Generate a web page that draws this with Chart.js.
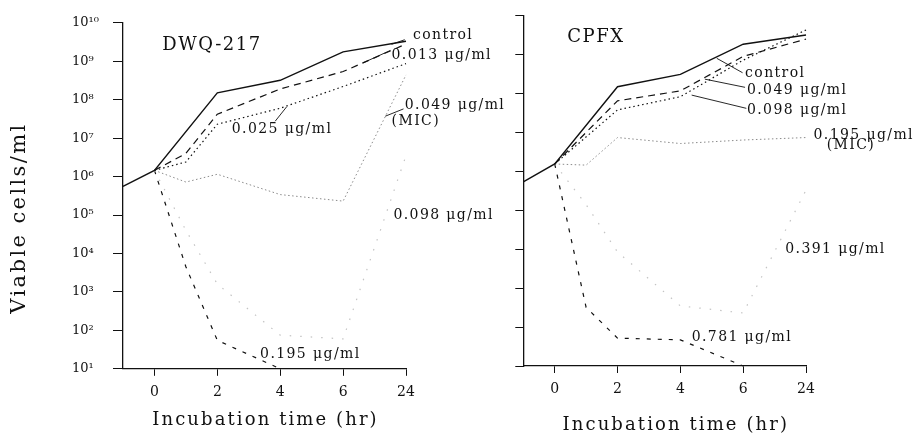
<!DOCTYPE html>
<html>
<head>
<meta charset="utf-8">
<script src="https://cdn.jsdelivr.net/npm/chart.js@4.4.1/dist/chart.umd.min.js"></script>
<style>
    html, body { margin: 0; padding: 0; background: #fff; }
    #wrap { position: relative; width: 917px; height: 435px; overflow: hidden; }
    canvas { position: absolute; top: 0; }
    #chart1 { left: 0; }
    #chart2 { left: 460px; }
</style>
</head>
<body>
<div id="wrap">
    <canvas id="chart1" width="520" height="435"></canvas>
    <canvas id="chart2" width="457" height="435"></canvas>
</div>
<script>
// sampling times (hr) and axis ticks
const hours = [-1, 0, 1, 2, 4, 6, 24];
const tickHours = [0, 2, 4, 6, 24];
const yTicks = [1e1, 1e2, 1e3, 1e4, 1e5, 1e6, 1e7, 1e8, 1e9, 1e10];

// DWQ-217 (viable cells/ml)
const dwqControl = [5.6e5, 1.45e6, null, 1.5e8, 3.2e8, 1.75e9, 3.3e9];
const dwq013 = [null, 1.45e6, 4.0e6, 4.2e7, 1.9e8, 5.4e8, 2.8e9];
const dwq025 = [null, 1.45e6, 2.4e6, 2.3e7, 6.0e7, 2.2e8, 8.7e8];
const dwq049 = [null, 1.45e6, 7.2e5, 1.15e6, 3.4e5, 2.3e5, 4.4e8];
const dwq098 = [null, 1.45e6, 4.0e4, 1.6e3, 75, 60, 3.5e6];
const dwq195 = [null, 1.45e6, 4.5e3, 55, 10, null, null];

// CPFX (viable cells/ml)
const cpfxControl = [5.4e5, 1.55e6, null, 1.5e8, 3.1e8, 1.85e9, 3.2e9];
const cpfx049 = [null, 1.55e6, null, 6.5e7, 1.17e8, 9.0e8, 2.5e9];
const cpfx098 = [null, 1.55e6, null, 3.8e7, 8.3e7, 7.2e8, 4.3e9];
const cpfx195 = [null, 1.55e6, 1.45e6, 7.4e6, 5.2e6, 6.4e6, 7.4e6];
const cpfx391 = [null, 1.55e6, 1.4e5, 8.5e3, 350, 230, 3.3e5];
const cpfx781 = [null, 1.55e6, 320, 52, 47, 10, null];

// broken time axis: 0-6 h at half a slot per hour, 6-24 h squeezed into one slot
function pos(h) {
    return h <= 6 ? h / 2 : 3 + (h - 6) / 18;
}

const SERIF = '"DejaVu Serif", "Liberation Serif", serif';
const INK = '#111';

const styles = {
    solid: { borderColor: INK, borderWidth: 1.4, borderDash: [] },
    dash: { borderColor: INK, borderWidth: 1.2, borderDash: [7, 5] },
    dot: { borderColor: INK, borderWidth: 1.2, borderDash: [1.5, 3] },
    mic: { borderColor: '#8a8a8a', borderWidth: 1, borderDash: [1.5, 2.5] },
    faint: { borderColor: '#c4c4c4', borderWidth: 1.2, borderDash: [1.5, 9] },
    kill: { borderColor: INK, borderWidth: 1.2, borderDash: [4, 7] }
};

const sup = n => String(n).split('').map(d => '⁰¹²³⁴⁵⁶⁷⁸⁹'[+d]).join('');

// label anchors: [axis slot, log10 count]
const dwqNotes = [
    { text: 'control', at: [4.11, 9.67], from: [3.98, 9.56], to: [3.77, 9.44] },
    { text: '0.013 μg/ml', at: [3.77, 9.15], from: [3.75, 9.28], to: [3.32, 8.96] },
    { text: '0.049 μg/ml', at: [3.98, 7.85], from: [3.96, 7.76], to: [3.67, 7.57] },
    { text: '(MIC)', at: [3.77, 7.44] },
    { text: '0.025 μg/ml', at: [1.23, 7.24], from: [1.92, 7.44], to: [2.10, 7.81] },
    { text: '0.098 μg/ml', at: [3.80, 5.0] },
    { text: '0.195 μg/ml', at: [1.68, 1.38] }
];
const cpfxNotes = [
    { text: 'control', at: [3.03, 8.52], from: [2.99, 8.535], to: [2.58, 8.905] },
    { text: '0.049 μg/ml', at: [3.06, 8.09], from: [3.03, 8.16], to: [2.39, 8.37] },
    { text: '0.098 μg/ml', at: [3.06, 7.56], from: [3.05, 7.62], to: [2.18, 7.96] },
    { text: '0.195 μg/ml', at: [4.12, 6.93] },
    { text: '(MIC)', at: [4.33, 6.68] },
    { text: '0.391 μg/ml', at: [3.67, 4.0] },
    { text: '0.781 μg/ml', at: [2.18, 1.74] }
];

function notesPlugin(cfg) {
    return {
        id: 'notes',
        afterDraw(chart) {
            const ctx = chart.ctx;
            const xs = chart.scales.x, ys = chart.scales.y;
            const px = p => xs.getPixelForValue(p[0]);
            const py = p => ys.getPixelForValue(Math.pow(10, p[1]));
            ctx.save();
            ctx.fillStyle = INK;
            ctx.strokeStyle = INK;
            ctx.textAlign = 'left';
            ctx.textBaseline = 'middle';

            ctx.font = '18px ' + SERIF;
            ctx.letterSpacing = '1.5px';
            ctx.fillText(cfg.title, px(cfg.titleAt), py(cfg.titleAt));

            ctx.font = '14px ' + SERIF;
            ctx.letterSpacing = '1.4px';
            ctx.lineWidth = 0.9;
            cfg.notes.forEach(n => {
                ctx.fillText(n.text, px(n.at), py(n.at));
                if (n.from) {
                    ctx.beginPath();
                    ctx.moveTo(px(n.from), py(n.from));
                    ctx.lineTo(px(n.to), py(n.to));
                    ctx.stroke();
                }
            });

            ctx.font = '18px ' + SERIF;
            ctx.letterSpacing = '2.1px';
            ctx.textAlign = 'center';
            ctx.textBaseline = 'alphabetic';
            ctx.fillText('Incubation time (hr)', cfg.xTitle[0], cfg.xTitle[1]);

            if (cfg.yTitle) {
                ctx.translate(cfg.yTitle[0], cfg.yTitle[1]);
                ctx.rotate(-Math.PI / 2);
                ctx.font = '21px ' + SERIF;
                ctx.letterSpacing = '2.4px';
                ctx.textBaseline = 'middle';
                ctx.fillText('Viable cells/ml', 0, 0);
            }
            ctx.restore();
        }
    };
}

function makeSeries(list) {
    return list.map(s => ({
        label: s.label,
        data: hours.map((h, i) => s.values[i] == null ? null : { x: pos(h), y: s.values[i] }).filter(p => p),
        ...styles[s.kind],
        pointRadius: 0,
        fill: false,
        tension: 0,
        clip: false
    }));
}

function crearPanel(id, series, cfg) {
    const ctx = document.getElementById(id);
    return new Chart(ctx, {
        type: 'line',
        data: { datasets: makeSeries(series) },
        options: {
            responsive: false,
            animation: false,
            devicePixelRatio: 1,
            layout: { padding: cfg.padding },
            plugins: { legend: { display: false }, tooltip: { enabled: false } },
            scales: {
                x: {
                    type: 'linear',
                    min: pos(-1),
                    max: pos(24),
                    afterBuildTicks: sc => { sc.ticks = tickHours.map(h => ({ value: pos(h) })); },
                    afterFit: sc => { sc.height = 40; },
                    grid: { drawOnChartArea: false, drawTicks: true, tickLength: 7, color: INK, lineWidth: 1 },
                    border: { display: true, color: INK, width: 1.3 },
                    ticks: {
                        callback: (v, i) => String(tickHours[i]),
                        font: { family: SERIF, size: 14 },
                        color: INK,
                        padding: 8,
                        maxRotation: 0
                    }
                },
                y: {
                    type: 'logarithmic',
                    min: 1e1,
                    max: 1e10,
                    afterBuildTicks: sc => { sc.ticks = yTicks.map(v => ({ value: v })); },
                    afterFit: sc => { sc.width = cfg.yWidth; },
                    grid: { drawOnChartArea: false, drawTicks: true, tickLength: cfg.yTick, color: INK, lineWidth: 1 },
                    border: { display: true, color: INK, width: 1.3 },
                    ticks: {
                        display: cfg.yLabels,
                        callback: v => '10' + sup(Math.round(Math.log10(v))),
                        font: { family: SERIF, size: 13 },
                        color: INK,
                        crossAlign: 'far',
                        padding: 15
                    }
                }
            }
        },
        plugins: [notesPlugin(cfg)]
    });
}

let tablaDwq = crearPanel('chart1', [
    { label: 'control', values: dwqControl, kind: 'solid' },
    { label: '0.013 μg/ml', values: dwq013, kind: 'dash' },
    { label: '0.025 μg/ml', values: dwq025, kind: 'dot' },
    { label: '0.049 μg/ml (MIC)', values: dwq049, kind: 'mic' },
    { label: '0.098 μg/ml', values: dwq098, kind: 'faint' },
    { label: '0.195 μg/ml', values: dwq195, kind: 'kill' }
], {
    title: 'DWQ-217', titleAt: [0.126, 9.41], notes: dwqNotes,
    padding: { left: 72, top: 18.8, right: 114, bottom: 26.2 },
    yWidth: 51, yTick: 10, yLabels: true,
    xTitle: [265.5, 425], yTitle: [20, 218]
});

let tablaCpfx = crearPanel('chart2', [
    { label: 'control', values: cpfxControl, kind: 'solid' },
    { label: '0.049 μg/ml', values: cpfx049, kind: 'dash' },
    { label: '0.098 μg/ml', values: cpfx098, kind: 'dot' },
    { label: '0.195 μg/ml (MIC)', values: cpfx195, kind: 'mic' },
    { label: '0.391 μg/ml', values: cpfx391, kind: 'faint' },
    { label: '0.781 μg/ml', values: cpfx781, kind: 'kill' }
], {
    title: 'CPFX', titleAt: [0.20, 9.45], notes: cpfxNotes,
    padding: { left: 0, top: 15.7, right: 111, bottom: 29 },
    yWidth: 63.3, yTick: 8, yLabels: false,
    xTitle: [215.8, 430], yTitle: null
});
</script>
</body>
</html>
